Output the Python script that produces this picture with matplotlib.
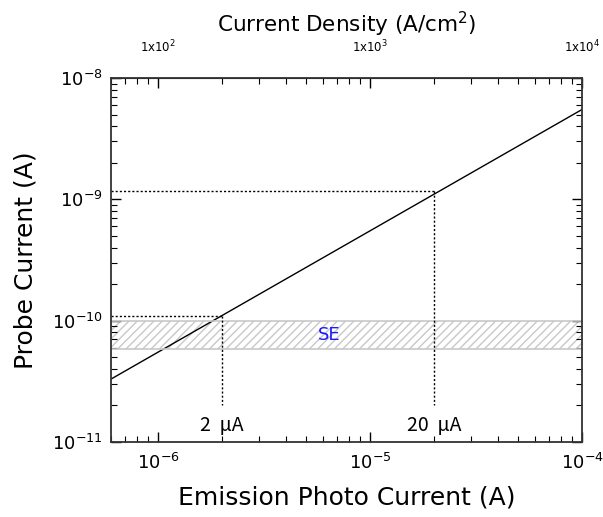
import numpy as np
import matplotlib
matplotlib.use("Agg")
import matplotlib.pyplot as plt
from matplotlib.ticker import LogLocator, FixedLocator, NullFormatter

plt.rcParams['font.family'] = ['DejaVu Sans']

# data
emission_current = [6e-7, 1e-4]           # A
probe_current = [3.3e-11, 5.5e-9]         # A
marks_x = [2e-6, 2e-5]
marks_y = [1.1e-10, 1.18e-9]
mark_labels = ["2  μA", "20  μA"]
se_band = [5.8e-11, 1.0e-10]
density_ticks = [1e2, 1e3, 1e4]
density_labels = [r"1x10$^2$", r"1x10$^3$", r"1x10$^4$"]
density_per_amp = 1e8

fig = plt.figure(figsize=(6.03, 5.17), dpi=100)
ax = fig.add_axes([111/603, 1-442/517, (582-111)/603, (442-78)/517])
ax.set_xscale('log')
ax.set_yscale('log')
ax.set_xlim(6e-7, 1e-4)
ax.set_ylim(1e-11, 1e-8)

ax.plot(emission_current, probe_current, color='black', lw=1.0)

ax.fill_between([6e-7, 1e-4], se_band[0], se_band[1], facecolor='none',
                edgecolor='#c8c8c8', hatch='////', lw=0)
ax.axhline(se_band[0], color='#c8c8c8', lw=1.2)
ax.axhline(se_band[1], color='#c8c8c8', lw=1.2)
ax.text(6.4e-6, 7.6e-11, "SE", color='#1a1aff', fontsize=13, ha='center', va='center')

for x, y, lab in zip(marks_x, marks_y, mark_labels):
    ax.plot([6e-7, x], [y, y], color='black', lw=1.0, ls=(0, (1.5, 1.5)))
    ax.plot([x, x], [y, 2.0e-11], color='black', lw=1.0, ls=(0, (1.5, 1.5)))
    ax.text(x, 1.38e-11, lab, fontsize=14, ha='center', va='center',
            family=['Noto Sans CJK JP', 'DejaVu Sans'])

ax.tick_params(which='both', direction='in', top=True, right=True, labelsize=13,
               colors='black')
ax.tick_params(which='major', length=7, width=1)
ax.tick_params(which='minor', length=4, width=0.8)
ax.tick_params(axis='x', pad=8)
ax.tick_params(axis='y', pad=6)
ax.xaxis.set_major_locator(FixedLocator([1e-6, 1e-5, 1e-4]))
ax.yaxis.set_major_locator(FixedLocator([1e-11, 1e-10, 1e-9, 1e-8]))
ax.xaxis.set_minor_locator(LogLocator(base=10, subs=np.arange(2, 10), numticks=20))
ax.yaxis.set_minor_locator(LogLocator(base=10, subs=np.arange(2, 10), numticks=20))
ax.xaxis.set_minor_formatter(NullFormatter())
ax.yaxis.set_minor_formatter(NullFormatter())
for s in ax.spines.values():
    s.set_linewidth(1.3)
    s.set_color('#333333')

ax.set_xlabel("Emission Photo Current (A)", fontsize=18, labelpad=9)
ax.set_ylabel("Probe Current (A)", fontsize=18, labelpad=10)

top = ax.secondary_xaxis('top', functions=(lambda x: x * density_per_amp,
                                           lambda d: d / density_per_amp))
top.xaxis.set_major_locator(FixedLocator(density_ticks))
top.set_xticklabels(density_labels)
top.tick_params(which='both', direction='in', labelsize=8.5, pad=16)
top.tick_params(which='major', length=0)
top.tick_params(which='minor', length=0)
top.set_xlabel(r"Current Density (A/cm$^2$)", fontsize=15.5, labelpad=5)

fig.savefig("out.png", dpi=100)
